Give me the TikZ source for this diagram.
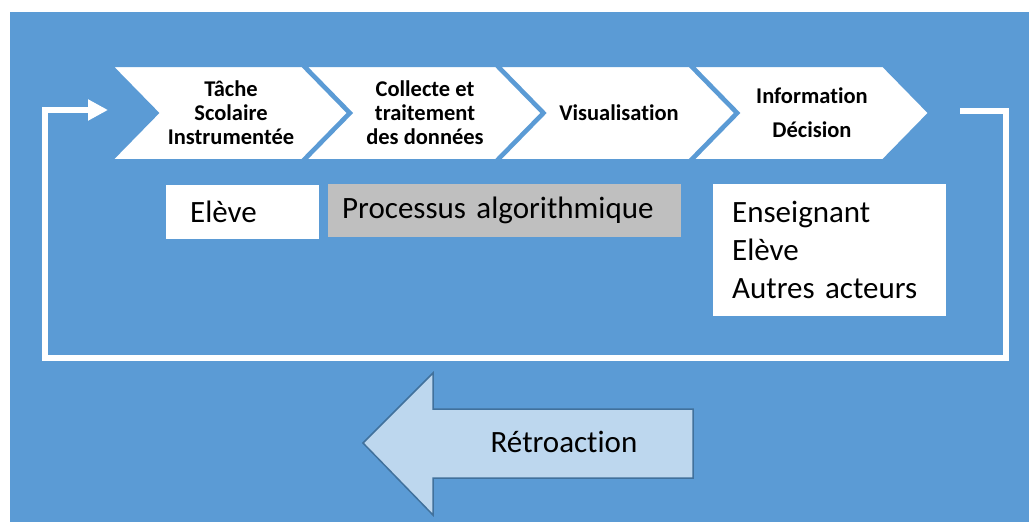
\documentclass[tikz,border=0pt]{standalone}
\usepackage{fontspec}
\setmainfont[Ligatures={NoCommon,NoContextual}]{Carlito}
\usetikzlibrary{arrows.meta}
\definecolor{fond}{HTML}{5B9BD5}
\definecolor{clair}{HTML}{BDD7EE}
\definecolor{bord}{HTML}{41719C}
\definecolor{gris}{HTML}{BFBFBF}
\begin{document}
\begin{tikzpicture}[x=1pt, y=-1pt, every node/.style = {inner sep=0pt, text=black}]
	\tikzstyle{etape} = [align=center, font=\bfseries\fontsize{22.5}{24}\selectfont]
	\tikzstyle{cadre} = [anchor=north west, align=left, font=\fontsize{31}{38}\selectfont]
	\tikzstyle{boucle} = [draw=white, line width=6pt, line join=miter]
	\tikzstyle{chevron} = [fill=white, draw=fond, line width=2pt]
	\useasboundingbox (0,0) rectangle (1029,522);
	\fill[fond] (10,12) rectangle (1029,522);
	\foreach \x in {112,305.7,499.3,693}
		\filldraw[chevron] (\x,66) -- ++(190,0) -- ++(46,47) -- ++(-46,47) -- ++(-190,0) -- ++(46,-47) -- cycle;
	\node[etape] (tache) at (231,113) {Tâche\\Scolaire\\Instrumentée};
	\node[etape] (collecte) at (425,113) {Collecte et\\traitement\\des données};
	\node[etape] (visu) at (619,113) {Visualisation};
	\node[etape] (info) at (812,113) {Information\\[10pt]Décision};
	\node[cadre, fill=white, text width=105pt, minimum height=54pt, inner xsep=24pt] (eleve) at (166,185) {Elève};
	\node[cadre, fill=gris, text width=325pt, minimum height=53pt, inner xsep=14pt] (processus) at (328,184) {Processus algorithmique};
	\node[cadre, fill=white, text width=195pt, minimum height=132pt, inner xsep=19pt] (acteurs) at (713,184) {Enseignant\\Elève\\Autres acteurs};
	\coordinate (depart) at (960,111);
	\coordinate (entree) at (108,110);
	\draw[boucle, -{Triangle[length=20pt, width=20pt]}] (depart) -- (1005.5,111) -- (1005.5,358) -- (45,358) -- (45,110) -- (entree);
	\filldraw[fill=clair, draw=bord, line width=1.5pt] (363,443) -- (433,373) -- (433,409) -- (693,409) -- (693,478) -- (433,478) -- (433,515) -- cycle;
	\node[font=\fontsize{31}{38}\selectfont] (retro) at (564,442) {Rétroaction};
\end{tikzpicture}
\end{document}
